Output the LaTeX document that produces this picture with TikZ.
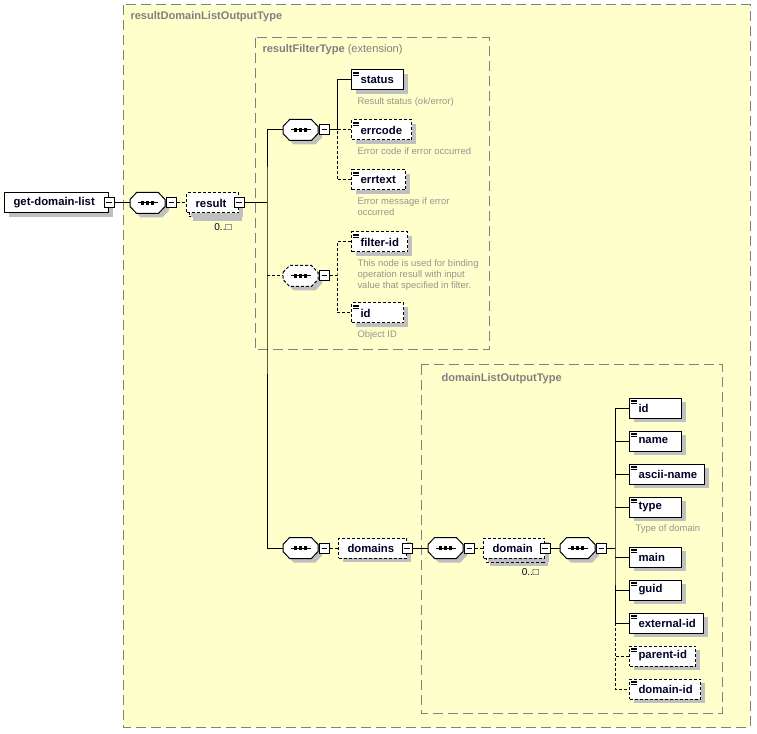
\documentclass[tikz,border=0pt]{standalone}
\usepackage{fontspec}
\setmainfont{Liberation Sans}
\usetikzlibrary{shadows}
\definecolor{schemabg}{RGB}{255,255,204}
\definecolor{groupline}{RGB}{128,128,128}
\definecolor{shade}{RGB}{192,192,192}
\definecolor{doctext}{RGB}{150,150,140}
\definecolor{elemtext}{RGB}{0,0,40}
\begin{document}
\begin{tikzpicture}[x=0.75pt, y=-0.75pt, line width=0.75pt]
	\tikzset{
		shade box/.style={general shadow={fill=shade, shadow xshift=3pt, shadow yshift=-3pt}},
		opt/.style={dash pattern=on 2.25pt off 1.5pt},
		elem/.style={draw, fill=white, anchor=west, shade box, minimum height=15pt, inner xsep=0pt, inner ysep=0pt,
			text width={#1*0.75pt}, align=left, text=elemtext, font=\fontsize{8.5}{10}\selectfont\bfseries,
			execute at begin node={\exhyphenpenalty=10000\hspace*{6.8pt}}},
		simple/.style={path picture={\foreach \d in {1.4pt,2.7pt,4pt}
			\draw[solid, line width=0.5pt] ([shift={(1.3pt,-\d)}]path picture bounding box.north west) -- ++(4.6pt,0pt);}},
		seq/.style={rectangle, anchor=west, minimum width=25.5pt, minimum height=15pt, inner sep=0pt},
		seqline/.style={draw, fill=white, shade box},
		minus/.style={draw, fill=white, solid, minimum size=7.5pt, inner sep=0pt,
			path picture={\draw ([xshift=-2.2pt]path picture bounding box.center) -- ([xshift=2.2pt]path picture bounding box.center);}},
		group/.style={draw=groupline, fill=schemabg, dash pattern=on 7.5pt off 3.75pt},
		grouplabel/.style={anchor=west, inner sep=0pt, text=groupline, font=\fontsize{8.3}{10}\selectfont},
		doc/.style={anchor=north west, inner sep=0pt, align=left, text=doctext, font=\fontsize{7.1}{8.4}\selectfont},
		occurs/.style={inner sep=0pt, text=elemtext, font=\fontsize{7.5}{9}\selectfont},
		stackback/.style={draw, fill=white, opt, shade box}
	}
	\useasboundingbox (0,0) rectangle (757,734);
	% type boxes
	\draw[group] (123,5) rectangle (750,727);
	\draw[group] (255,38) rectangle (489,350);
	\draw[group] (421,365) rectangle (722,713);
	\node[grouplabel] (outerlabel) at (130,17) {\bfseries resultDomainListOutputType};
	\node[grouplabel] (filterlabel) at (262,50) {\textbf{resultFilterType} (extension)};
	\node[grouplabel] (listlabel) at (441,379) {\bfseries domainListOutputType};
	% repeated elements
	\draw[stackback] (189,197) rectangle (238,217);
	\draw[stackback] (486,542) rectangle (544,562);
	% elements
	\node[elem=104] (gdl) at (4,203) {get-domain-list};
	\node[elem=52, opt] (result) at (186,203) {result};
	\node[elem=52, simple] (status) at (351,80) {status};
	\node[elem=60, simple, opt] (errcode) at (351,130) {errcode};
	\node[elem=54, simple, opt] (errtext) at (351,180) {errtext};
	\node[elem=56, simple, opt] (filterid) at (351,242) {filter-id};
	\node[elem=52, simple, opt] (fid) at (351,313) {id};
	\node[elem=68, opt] (domains) at (338,548) {domains};
	\node[elem=61, opt] (domain) at (483,548) {domain};
	\foreach \n/\t/\y/\w in {did/id/408/52, dname/name/441/52, ascii/ascii-name/474/75, dtype/type/507/52,
		dmain/main/557/52, guid/guid/590/52, extid/external-id/623/74}
		\node[elem=\w, simple] (\n) at (629,\y) {\t};
	\node[elem=66, simple, opt] (parentid) at (629,656) {parent-id};
	\node[elem=71, simple, opt] (domid) at (629,689) {domain-id};
	% sequences
	\node[seq] (seqA) at (130,203) {};
	\node[seq] (seqB) at (283,130) {};
	\node[seq] (seqC) at (283,276) {};
	\node[seq] (seqD) at (283,548) {};
	\node[seq] (seqE) at (428,548) {};
	\node[seq] (seqF) at (560,548) {};
	\foreach \s/\ls in {seqA/solid,seqB/solid,seqC/opt,seqD/solid,seqE/solid,seqF/solid}{
		\draw[seqline, \ls] ([yshift=2.7pt]\s.west) -- ([xshift=5pt]\s.north west) -- ([xshift=-5pt]\s.north east)
			-- ([yshift=2.7pt]\s.east) -- ([yshift=-2.7pt]\s.east) -- ([xshift=-5pt]\s.south east)
			-- ([xshift=5pt]\s.south west) -- ([yshift=-2.7pt]\s.west) -- cycle;
		\draw ([xshift=-7.5pt]\s.center) -- ([xshift=7.5pt]\s.center);
		\foreach \d in {-3.6pt,0pt,3.6pt}
			\fill[black] ([xshift=\d]\s.center) +(-1.3pt,-1.2pt) rectangle +(1.3pt,1.2pt);
		\node[minus, anchor=west] (\s-m) at ([xshift=0.75pt]\s.east) {};
	}
	\foreach \e in {gdl,result,domains,domain}
		\node[minus] (\e-m) at (\e.east) {};
	% annotations
	\node[doc] (status-d) at ([xshift=4.5pt,yshift=-5pt]status.south west) {Result status (ok/error)};
	\node[doc] (errcode-d) at ([xshift=4.5pt,yshift=-5pt]errcode.south west) {Error code if error occurred};
	\node[doc] (errtext-d) at ([xshift=4.5pt,yshift=-5pt]errtext.south west) {Error message if error\\occurred};
	\node[doc] (filterid-d) at ([xshift=4.5pt,yshift=-5pt]filterid.south west) {This node is used for binding\\operation resull with input\\value that specified in filter.};
	\node[doc] (fid-d) at ([xshift=4.5pt,yshift=-5pt]fid.south west) {Object ID};
	\node[doc] (dtype-d) at ([xshift=4.5pt,yshift=-5pt]dtype.south west) {Type of domain};
	\node[occurs] (result-o) at ([xshift=-12pt,yshift=-10.5pt]result.south east) {0..□};
	\node[occurs] (domain-o) at ([xshift=-11pt,yshift=-10.5pt]domain.south east) {0..□};
	% connectors
	\coordinate (trunk) at (267,203);
	\coordinate (busB) at (337,130);
	\coordinate (busC) at (337,276);
	\coordinate (busF) at (615,548);
	\draw (gdl-m.east) -- (seqA.west);
	\draw[opt] (seqA-m.east) -- (result.west);
	\draw (result-m.east) -- (trunk);
	\draw (seqB.west) -| (trunk) |- (seqD.west);
	\draw[opt] (trunk |- seqC.west) -- (seqC.west);
	\draw (seqB-m.east) -- (busB);
	\draw (status.west) -| (busB);
	\draw[opt] (errcode.west) -| (busB) |- (errtext.west);
	\draw[opt] (seqC-m.east) -- (busC);
	\draw[opt] (filterid.west) -| (busC) |- (fid.west);
	\draw[opt] (seqD-m.east) -- (domains.west);
	\draw (domains-m.east) -- (seqE.west);
	\draw[opt] (seqE-m.east) -- (domain.west);
	\draw (domain-m.east) -- (seqF.west);
	\draw (seqF-m.east) -- (busF);
	\draw (did.west) -| (busF) |- (extid.west);
	\foreach \n in {dname,ascii,dtype,dmain,guid}
		\draw (\n.west) -- (\n.west -| busF);
	\draw[opt] (extid.west -| busF) |- (domid.west);
	\draw[opt] (parentid.west) -- (parentid.west -| busF);
\end{tikzpicture}
\end{document}
